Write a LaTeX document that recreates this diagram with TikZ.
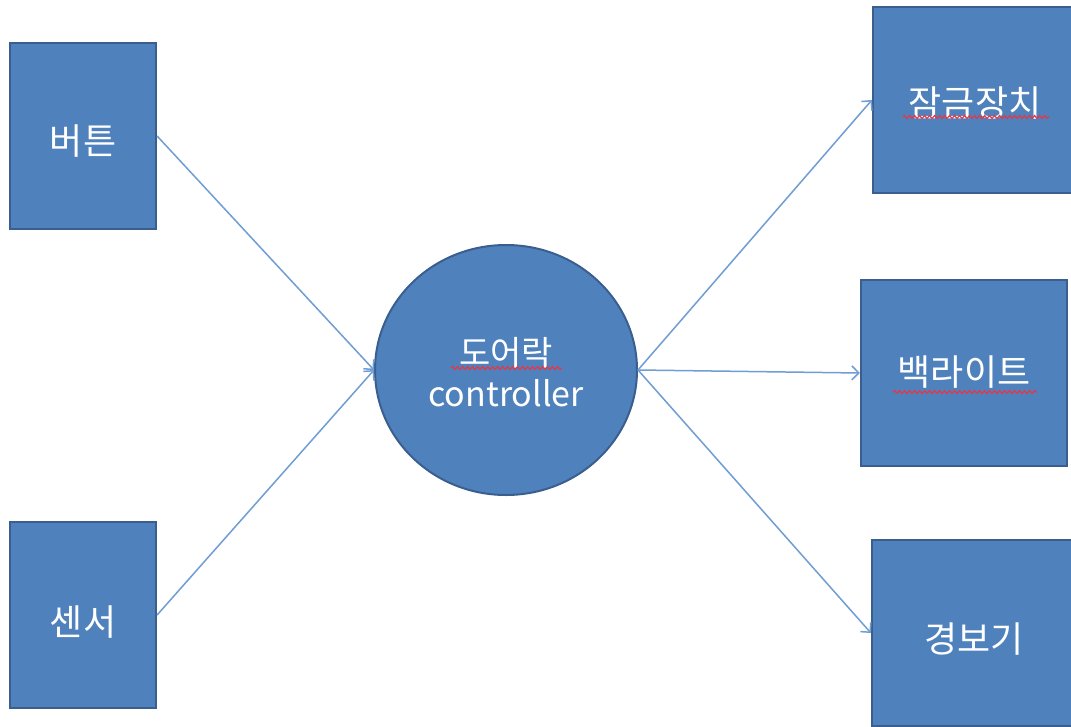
\documentclass[tikz,border=0pt]{standalone}
\usepackage{fontspec}
\setmainfont{Noto Sans CJK KR}
\usetikzlibrary{arrows.meta,decorations.pathmorphing,shapes.geometric}
\definecolor{fillblue}{HTML}{4F81BD}
\definecolor{edgeblue}{HTML}{3A5F8E}
\definecolor{linkblue}{HTML}{6F9DD4}
\definecolor{spellred}{HTML}{E23A48}
\newcommand\txtdown[2]{\raisebox{-#1}[\height][\depth]{#2}}
\begin{document}
\begin{tikzpicture}[x=1pt,y=-1pt,
  box/.style={draw=edgeblue, line width=2.2pt, fill=fillblue, inner sep=0pt,
    text=white, font=\fontsize{36}{42}\selectfont},
  leftbox/.style={box, minimum width=146pt, minimum height=186pt},
  rightbox/.style={box, minimum width=204pt, minimum height=186pt},
  hub/.style={ellipse, draw=edgeblue, line width=2pt, fill=fillblue, inner sep=0pt,
    minimum width=262pt, minimum height=250pt, text=white,
    font=\fontsize{34}{41}\selectfont},
  link/.style={draw=linkblue, line width=1.5pt, -{Straight Barb[length=7pt,width=14pt,line width=1.5pt]}},
  wavy/.style={draw=spellred, line width=1.2pt,
    decorate, decoration={snake, amplitude=1.5pt, segment length=5pt}}
]
\useasboundingbox (0,0) rectangle (1071,726);
\clip (0,0) rectangle (1071,726);

\node[leftbox] (btn) at (83,136) {\txtdown{5pt}{버튼}};
\node[leftbox] (sensor) at (83,615) {\txtdown{7pt}{센서}};
\node[hub] (ctrl) at (506,370) {\txtdown{8pt}{\begin{tabular}{@{}c@{}}도어락\\controller\end{tabular}}};
\node[rightbox] (lock) at (975,100) {\txtdown{3pt}{잠금장치}};
\node[box, minimum width=206pt, minimum height=186pt] (backlight) at (964,373) {\txtdown{-1pt}{백라이트}};
\node[rightbox] (alarm) at (974,633) {\txtdown{6pt}{경보기}};

\draw[link] (btn.east) -- (ctrl.west);
\draw[link] (sensor.east) -- (ctrl.west);
\draw[link] (ctrl.east) -- (lock.west);
\draw[link] (ctrl.east) -- (backlight.west);
\draw[link] (ctrl.east) -- (alarm.west);

\draw[wavy] ([xshift=-55pt,yshift=2pt]ctrl.center) -- ++(111,0);
\draw[wavy] ([xshift=-72pt,yshift=-17pt]lock.center) -- ++(146,0);
\draw[wavy] ([xshift=-71pt,yshift=-19pt]backlight.center) -- ++(144,0);
\end{tikzpicture}
\end{document}
